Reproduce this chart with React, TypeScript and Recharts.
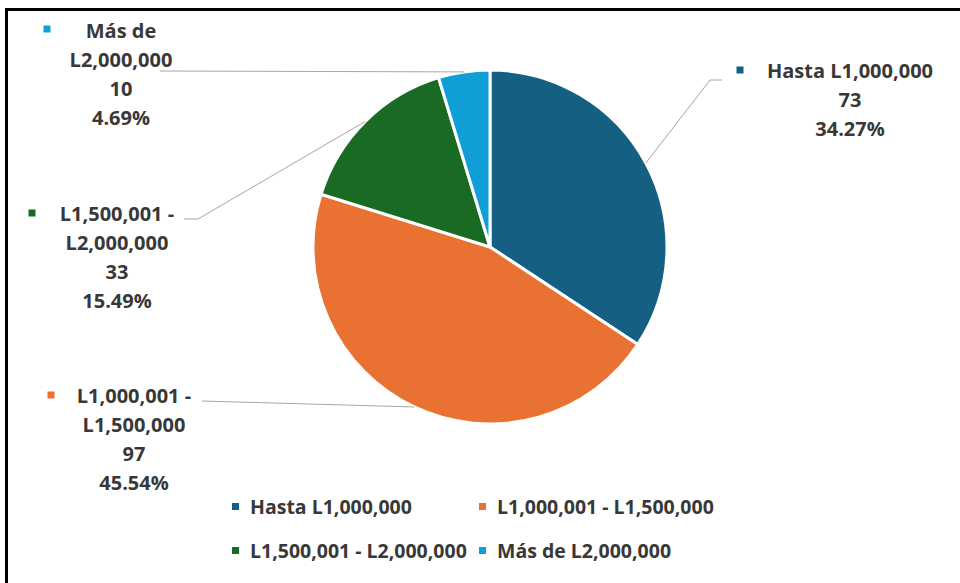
import React from "react";
import { PieChart, Pie, Cell, Legend } from "recharts";

// Rangos de monto y cantidad de casos
const categories = [
  "Hasta L1,000,000",
  "L1,000,001 - L1,500,000",
  "L1,500,001 - L2,000,000",
  "Más de L2,000,000",
];
const counts = [73, 97, 33, 10];
// how each category name wraps in the data label
const labelNames = [
  ["Hasta L1,000,000"],
  ["L1,000,001 -", "L1,500,000"],
  ["L1,500,001 -", "L2,000,000"],
  ["Más de", "L2,000,000"],
];
const colors = ["#156082", "#e97132", "#196b24", "#0f9ed5"];

const data = categories.map((name, i) => ({ name, value: counts[i] }));

// where each data label sits (elbow of leader line, line end, text block, key)
const labelLayout = [
  { elbow: [710, 80], end: [722, 80], tx: 850, ty: 70, key: [740, 70] },
  { elbow: [202, 401], end: [202, 401], tx: 134, ty: 395, key: [51, 395] },
  { elbow: [198, 219], end: [184, 219], tx: 117, ty: 213, key: [32, 213] },
  { elbow: [160, 71], end: [160, 71], tx: 121, ty: 30, key: [47, 29] },
];

const FONT = "'Open Sans', 'Noto Sans', sans-serif";
const TEXT = "#383838";
const LINE_H = 29;
const RADIAN = Math.PI / 180;

const renderLabel = (props: any) => {
  const { cx, cy, midAngle, outerRadius, index, value, percent } = props;
  const sx = cx + outerRadius * Math.cos(-midAngle * RADIAN);
  const sy = cy + outerRadius * Math.sin(-midAngle * RADIAN);
  const lay = labelLayout[index];
  const lines = [...labelNames[index], String(value), (percent * 100).toFixed(2) + "%"];
  return (
    <g key={"lbl-" + index}>
      <polyline
        points={`${sx},${sy} ${lay.elbow[0]},${lay.elbow[1]} ${lay.end[0]},${lay.end[1]}`}
        fill="none"
        stroke="#a6a6a6"
        strokeWidth={1}
      />
      <rect x={lay.key[0] - 3.5} y={lay.key[1] - 3.5} width={7} height={7} fill={colors[index]} />
      {lines.map((t, i) => (
        <text
          key={i}
          x={lay.tx}
          y={lay.ty + i * LINE_H}
          textAnchor="middle"
          dominantBaseline="central"
          fontFamily={FONT}
          fontWeight={700}
          fontSize={20}
          fill={TEXT}
        >
          {t}
        </text>
      ))}
    </g>
  );
};

const LegendContent = () => (
  <div
    style={{
      display: "grid",
      gridTemplateColumns: "247px 260px",
      gridAutoRows: "22px",
      rowGap: 22,
      fontFamily: FONT,
      fontWeight: 700,
      fontSize: 19.5,
      color: TEXT,
    }}
  >
    {categories.map((c, i) => (
      <div key={c} style={{ display: "flex", alignItems: "center", whiteSpace: "nowrap" }}>
        <span
          style={{
            display: "inline-block",
            width: 7,
            height: 7,
            background: colors[i],
            marginRight: 11,
          }}
        />
        {c}
      </div>
    ))}
  </div>
);

export default function App() {
  return (
    <div
      style={{
        position: "absolute",
        left: 0,
        top: 0,
        width: 960,
        height: 583,
        background: "#fff",
        overflow: "hidden",
      }}
    >
      <div
        style={{
          position: "absolute",
          left: 5,
          top: 8,
          width: 960,
          height: 583,
          borderTop: "3px solid #000",
          borderLeft: "3px solid #000",
        }}
      />
      <PieChart
        width={960}
        height={583}
        margin={{ top: 0, right: 0, bottom: 0, left: 0 }}
        style={{ position: "absolute", left: 0, top: 0 }}
      >
        <Pie
          data={data}
          dataKey="value"
          nameKey="name"
          cx={490}
          cy={247}
          outerRadius={177}
          startAngle={90}
          endAngle={-270}
          stroke="#ffffff"
          strokeWidth={3}
          label={renderLabel}
          labelLine={false}
          isAnimationActive={false}
        >
          {data.map((d, i) => (
            <Cell key={d.name} fill={colors[i]} />
          ))}
        </Pie>
        <Legend
          content={<LegendContent />}
          wrapperStyle={{ position: "absolute", left: 232, top: 495, width: 530 }}
        />
      </PieChart>
    </div>
  );
}
